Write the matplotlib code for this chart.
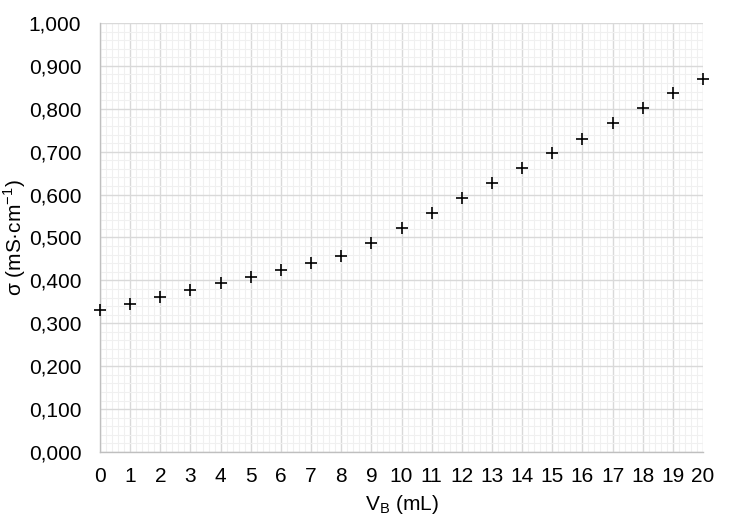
import matplotlib

matplotlib.use("Agg")
import matplotlib.pyplot as plt
from matplotlib.ticker import FuncFormatter, MultipleLocator

# titration volume (mL) and conductivity (mS/cm)
vb_ml = [0, 1, 2, 3, 4, 5, 6, 7, 8, 9, 10,
         11, 12, 13, 14, 15, 16, 17, 18, 19, 20]
sigma = [0.330, 0.346, 0.362, 0.377, 0.394, 0.409, 0.425, 0.441, 0.457, 0.488, 0.522,
         0.557, 0.591, 0.626, 0.661, 0.696, 0.730, 0.766, 0.801, 0.836, 0.870]

plt.rcParams["font.family"] = ["Liberation Sans", "DejaVu Sans"]
FS = 15

fig = plt.figure(figsize=(7.45, 5.28), dpi=100)
ax = fig.add_axes([100 / 745, 1 - 452 / 528, 603 / 745, 429 / 528])

ax.plot(vb_ml, sigma, linestyle="none", marker="+", color="black",
        markersize=8, markeredgewidth=1.2, clip_on=False, zorder=3)

ax.set_xlim(0, 20)
ax.set_ylim(0, 1.0)
ax.xaxis.set_major_locator(MultipleLocator(1))
ax.xaxis.set_minor_locator(MultipleLocator(0.2))
ax.yaxis.set_major_locator(MultipleLocator(0.1))
ax.yaxis.set_minor_locator(MultipleLocator(0.02))
ax.yaxis.set_major_formatter(FuncFormatter(lambda v, _: f"{v:.3f}".replace(".", ",")))

ax.grid(which="major", color="#d9d9d9", linewidth=1.0)
ax.grid(which="minor", color="#f0f0f0", linewidth=0.8)
ax.set_axisbelow(True)

for side in ("top", "right"):
    ax.spines[side].set_visible(False)
for side in ("left", "bottom"):
    ax.spines[side].set_color("#bfbfbf")
    ax.spines[side].set_linewidth(1.0)

ax.tick_params(which="both", length=0, labelsize=FS, colors="black")
ax.tick_params(axis="y", pad=13.5)
ax.tick_params(axis="x", pad=10.5)

ax.set_xlabel(r"V$_\mathregular{B}$ (mL)", fontsize=FS)
ax.set_ylabel(r"σ (mS·cm$^\mathregular{-1}$)", fontsize=FS)
ax.xaxis.set_label_coords(0.5, -(505 - 452) / 429, transform=ax.transAxes)
ax.yaxis.set_label_coords(-(100 - 15) / 603, 0.5, transform=ax.transAxes)
ax.xaxis.label.set_verticalalignment("center")
ax.yaxis.label.set_verticalalignment("center")

fig.savefig("out.png", dpi=100)
